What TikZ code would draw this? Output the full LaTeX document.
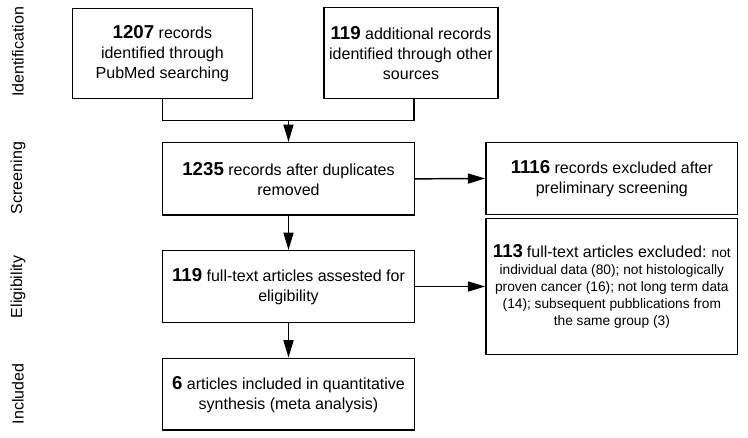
\documentclass[tikz,border=0pt]{standalone}
\usepackage{fontspec}
\setmainfont{Liberation Sans}
\usetikzlibrary{arrows.meta}
\newcommand\bnum[1]{{\fontsize{14}{15}\selectfont\bfseries #1}}
\tikzset{
  box/.style={draw, line width=1.1pt, inner sep=0pt, align=center,
    font=\fontsize{12}{15}\selectfont},
  arr/.style={line width=1.1pt, -{Triangle[length=13pt,width=7.5pt]}},
  ln/.style={line width=1.1pt},
  stage/.style={rotate=90, font=\fontsize{12}{15}\selectfont}
}
\begin{document}
\begin{tikzpicture}[x=0.75pt,y=-0.75pt]
\useasboundingbox (0,0) rectangle (748,438);
% stage labels
\node[stage] (l1) at (18,52) {Identification};
\node[stage] (l2) at (18,178) {Screening};
\node[stage] (l3) at (18,287) {Eligibility};
\node[stage] (l4) at (18,394) {Included};
% boxes
\node[box, minimum width=179.8*0.75pt, minimum height=90*0.75pt] (b1) at (162.4,53.3)
  {\bnum{1207} records\\identified through\\PubMed searching};
\node[box, minimum width=174*0.75pt, minimum height=90.8*0.75pt] (b2) at (411,53)
  {\bnum{119} additional records\\identified through other\\sources};
\node[box, minimum width=251.6*0.75pt, minimum height=72.3*0.75pt] (b3) at (288.5,178.85)
  {\bnum{1235} records after duplicates\\removed};
\node[box, minimum width=251.7*0.75pt, minimum height=71.6*0.75pt] (b4) at (611.85,178.5)
  {\bnum{1116} records excluded after\\preliminary screening};
\node[box, minimum width=251.6*0.75pt, minimum height=71.6*0.75pt] (b5) at (288.5,286.5)
  {\bnum{119} full-text articles assested for\\eligibility};
\node[box, minimum width=251.7*0.75pt, minimum height=136*0.75pt,
  font=\fontsize{10.3}{12.75}\selectfont] (b6) at (611.85,286.3)
  {\bnum{113} {\fontsize{12}{12.75}\selectfont full-text articles excluded:} not\\
   individual data (80); not histologically\\
   proven cancer (16); not long term data\\
   (14); subsequent pubblications from\\
   the same group (3)};
\node[box, minimum width=251.6*0.75pt, minimum height=71.7*0.75pt] (b7) at (288.5,394.15)
  {\bnum{6} articles included in quantitative\\synthesis (meta analysis)};
% connectors
\coordinate (j) at (288.5,120.7);
\draw[ln] (b1.south) |- (j);
\draw[ln] (b2.south -| 414,0) |- (j);
\draw[arr] (j) -- (b3.north);
\draw[arr] (b3.east) -- (b4.west);
\draw[arr] (b3.south) -- (b5.north);
\draw[arr] (b5.east) -- (b5.east -| b6.west);
\draw[arr] (b5.south) -- (b7.north);
\end{tikzpicture}
\end{document}
